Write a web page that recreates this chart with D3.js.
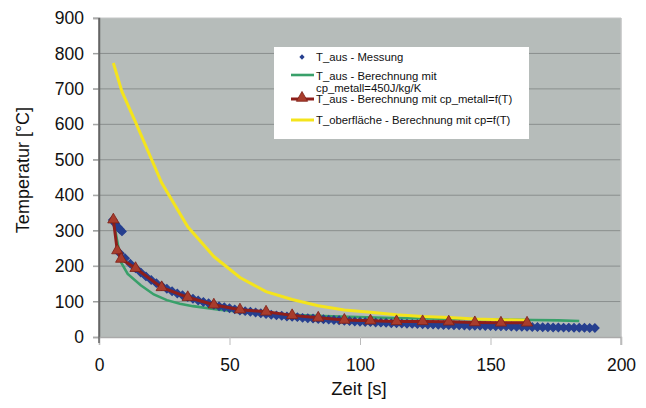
<!DOCTYPE html>
<html><head><meta charset="utf-8">
<script src="https://cdn.jsdelivr.net/npm/d3@7"></script>
<style>body{margin:0;background:#fff}svg{display:block;font-family:"Liberation Sans",Arial,sans-serif}</style>
</head><body><svg id="c" width="646" height="408"></svg>
<script>
const xTicks=[0,50,100,150,200];
const yTicks=[0,100,200,300,400,500,600,700,800,900];
const seriesNames=["T_aus - Messung","T_aus - Berechnung mit cp_metall=450J/kg/K","T_aus - Berechnung mit cp_metall=f(T)","T_oberfläche - Berechnung mit cp=f(T)"];
// Messung (scatter)
const messT=[5.3,6.2,7.1,8,8.8,8,10,12,14,16,18,20,22,24,26,28,30,32,34,36,38,40,42,44,46,48,50,52,54,56,58,60,62,64,66,68,70,72,74,76,78,80,82,84,86,88,90,92,94,96,98,100,102,104,106,108,110,112,114,116,118,120,122,124,126,128,130,132,134,136,138,140,142,144,146,148,150,152,154,156,158,160,162,164,166,168,170,172,174,176,178,180,182,184,186,188,190];
const messV=[330,320,311,304,298,236,222,207,194,182,171,161,152,144,136,129,123,118,113,108,103,99,95,91,87,84,81,78,75,73,71,69,67,65,63,61,60,58,57,56,54,53,52,51,50,49,48,47,46,45,44,43,42.5,42,41,40.5,40,39,38.5,38,37.5,37,36.5,36,35.5,35,34.5,34,33.5,33,33,32.5,32,32,31.5,31,31,30.5,30,30,29.5,29,29,28.5,28,28,27.5,27.5,27,27,26.5,26.5,26,26,26,25.5,25.5];
// Berechnung cp=450
const greenT=[5.5,8.5,11,16,21,26,31,36,46,56,66,76,86,96,106,116,126,136,146,156,166,176,184];
const greenV=[330,210,178,146,120,104,94,87,77,70,65,62,59,57,55,53,52,51,50,49,48,47,45];
// Berechnung cp=f(T)
const redT=[5.5,7,8.5,14,24,34,44,54,64,74,84,94,104,114,124,134,144,154,164];
const redV=[331,244,220,194,140,112,91,77,71,61,54,48,46,44,44,43,41,40,40];
// Oberfläche
const yelT=[5.5,8.8,14,24,34,44,54,64,74,84,94,104,114,124,134,144,154,164];
const yelV=[773,692,606,435,311,227,168,128,106,88,76,70,63,58,55,51,49,47];

const svg=d3.select("#c");
const L=99,R=621,T=18,B=337;
const x=d3.scaleLinear().domain([0,200]).range([L,R]);
const y=d3.scaleLinear().domain([0,900]).range([B,T]);

svg.append("rect").attr("x",L).attr("y",T).attr("width",R-L).attr("height",B-T).attr("fill","#b6bcba");
svg.append("g").selectAll("line").data(yTicks.filter(d=>d>0)).join("line")
 .attr("x1",L-6).attr("x2",R).attr("y1",d=>y(d)).attr("y2",d=>y(d))
 .attr("stroke",d=>d===900?"#c4c6c6":"#8a8f8e").attr("stroke-width",1);
svg.append("line").attr("x1",R).attr("x2",R).attr("y1",T).attr("y2",B+8).attr("stroke","#c0c2c2").attr("stroke-width",1.5);
const yAx=svg.append("g").attr("transform",`translate(${L},0)`).call(d3.axisLeft(y).tickValues(yTicks).tickSize(6).tickPadding(9).tickFormat(d3.format("d")));
yAx.select(".domain").attr("stroke","#666").attr("stroke-width",1.5);
yAx.selectAll(".tick line").attr("stroke","#aaa");
yAx.selectAll("text").attr("font-size","17.5px").attr("fill","#111");
const xAx=svg.append("g").attr("transform",`translate(0,${B})`).call(d3.axisBottom(x).tickValues(xTicks).tickSize(8).tickPadding(14).tickFormat(d3.format("d")));
xAx.select(".domain").attr("stroke","#aaa").attr("stroke-width",1.5);
xAx.selectAll(".tick line").attr("stroke","#bbb");
xAx.selectAll("text").attr("font-size","17.5px").attr("fill","#111");
svg.append("line").attr("x1",L).attr("x2",L).attr("y1",T).attr("y2",B+6).attr("stroke","#666").attr("stroke-width",1.5);

svg.append("text").attr("x",359).attr("y",395).attr("text-anchor","middle").attr("font-size","18.5px").attr("fill","#111").text("Zeit [s]");
svg.append("text").attr("transform","translate(29,170) rotate(-90)").attr("text-anchor","middle").attr("font-size","18px").attr("fill","#111").text("Temperatur [°C]");

const line=d3.line().x(d=>x(d[0])).y(d=>y(d[1]));
const zip=(a,b)=>a.map((v,i)=>[v,b[i]]);
const plot=svg.append("g");
plot.append("path").datum(zip(greenT,greenV)).attr("d",line).attr("fill","none").attr("stroke","#39a06a").attr("stroke-width",2.6);
plot.append("path").datum(zip(yelT,yelV)).attr("d",line).attr("fill","none").attr("stroke","#f4e41c").attr("stroke-width",3);
const diamond=d3.symbol().type(d3.symbolSquare).size(34);
plot.append("g").selectAll("path").data(zip(messT,messV)).join("path")
 .attr("transform",d=>`translate(${x(d[0])},${y(d[1])}) rotate(45)`).attr("d",diamond).attr("fill","#263f8f").attr("stroke","#263f8f").attr("stroke-width",1.2);
plot.append("path").datum(zip(redT,redV)).attr("d",line).attr("fill","none").attr("stroke","#8e1e1a").attr("stroke-width",3);
const tri=d3.symbol().type(d3.symbolTriangle).size(55);
plot.append("g").selectAll("path").data(zip(redT,redV)).join("path")
 .attr("transform",d=>`translate(${x(d[0])},${y(d[1])})`).attr("d",tri).attr("fill","#a83c2c").attr("stroke","#7e2016").attr("stroke-width",0.8);

const lg=svg.append("g");
lg.append("rect").attr("x",274).attr("y",47).attr("width",255).attr("height",92).attr("fill","#fff");
const tx=316, fs="11.3px";
lg.append("path").attr("transform","translate(302,57) rotate(45)").attr("d",d3.symbol().type(d3.symbolSquare).size(14)).attr("fill","#263f8f");
lg.append("text").attr("x",tx).attr("y",61).attr("font-size",fs).attr("fill","#111").text(seriesNames[0]);
lg.append("line").attr("x1",291).attr("x2",314).attr("y1",75).attr("y2",75).attr("stroke","#39a06a").attr("stroke-width",2.6);
lg.append("text").attr("x",tx).attr("y",80).attr("font-size",fs).attr("fill","#111").text("T_aus - Berechnung mit");
lg.append("text").attr("x",tx).attr("y",92).attr("font-size",fs).attr("fill","#111").text("cp_metall=450J/kg/K");
lg.append("line").attr("x1",291).attr("x2",314).attr("y1",99).attr("y2",99).attr("stroke","#8e1e1a").attr("stroke-width",3);
lg.append("path").attr("transform","translate(302,98)").attr("d",tri).attr("fill","#a83c2c").attr("stroke","#7e2016").attr("stroke-width",0.8);
lg.append("text").attr("x",tx).attr("y",103).attr("font-size",fs).attr("fill","#111").text(seriesNames[2]);
lg.append("line").attr("x1",291).attr("x2",314).attr("y1",120).attr("y2",120).attr("stroke","#f4e41c").attr("stroke-width",3);
lg.append("text").attr("x",tx).attr("y",124).attr("font-size",fs).attr("fill","#111").text(seriesNames[3]);
</script></body></html>
